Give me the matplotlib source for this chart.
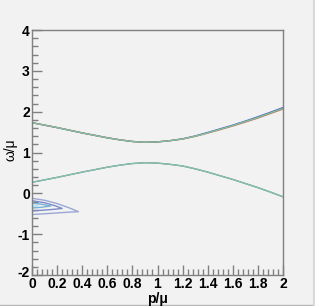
import numpy as np
import matplotlib
matplotlib.use("Agg")
import matplotlib.pyplot as plt
import matplotlib.transforms as mtransforms
from matplotlib.ticker import MultipleLocator
from matplotlib.lines import Line2D

# momentum grid (p/mu)
p = [0.0, 0.1, 0.2, 0.3, 0.4, 0.5, 0.6, 0.7, 0.8, 0.9, 1.0,
     1.1, 1.2, 1.3, 1.4, 1.5, 1.6, 1.7, 1.8, 1.9, 2.0]

# upper branch (three overlaid curves)
upper_green = [1.73, 1.67, 1.61, 1.545, 1.48, 1.42, 1.36, 1.31, 1.27, 1.25, 1.26,
               1.29, 1.33, 1.40, 1.48, 1.57, 1.66, 1.76, 1.86, 1.97, 2.08]
upper_red = [1.73, 1.67, 1.61, 1.545, 1.48, 1.42, 1.36, 1.31, 1.27, 1.25, 1.26,
             1.29, 1.33, 1.395, 1.475, 1.56, 1.65, 1.745, 1.845, 1.955, 2.065]
upper_blue = [1.73, 1.67, 1.61, 1.545, 1.48, 1.42, 1.36, 1.31, 1.27, 1.25, 1.26,
              1.29, 1.335, 1.405, 1.49, 1.58, 1.67, 1.77, 1.875, 1.985, 2.10]

# lower branch
lower_green = [0.27, 0.33, 0.39, 0.455, 0.52, 0.58, 0.64, 0.69, 0.73, 0.75, 0.74,
               0.71, 0.67, 0.60, 0.52, 0.43, 0.34, 0.24, 0.14, 0.03, -0.085]
lower_blue = [0.27, 0.33, 0.39, 0.455, 0.52, 0.58, 0.64, 0.69, 0.73, 0.75, 0.74,
              0.71, 0.67, 0.60, 0.52, 0.43, 0.34, 0.24, 0.14, 0.03, -0.085]
lower_red = [0.27, 0.33, 0.39, 0.455, 0.52, 0.58, 0.64, 0.69, 0.73, 0.75, 0.74,
             0.71, 0.67, 0.60, 0.52, 0.43, 0.34, 0.24, 0.14, 0.03, -0.085]

# contour rings near p=0, omega<0 (p, omega)
ring1_p = [0.0, 0.1, 0.2, 0.3, 0.37, 0.3, 0.2, 0.1, 0.0]
ring1_w = [-0.12, -0.17, -0.25, -0.36, -0.45, -0.46, -0.48, -0.50, -0.52]
ring2_p = [0.0, 0.1, 0.18, 0.24, 0.18, 0.1, 0.0]
ring2_w = [-0.18, -0.23, -0.30, -0.37, -0.39, -0.41, -0.43]
ring3_p = [0.0, 0.08, 0.15, 0.08, 0.0]
ring3_w = [-0.24, -0.27, -0.31, -0.34, -0.36]
core_p = [0.0, 0.04, 0.06, 0.04, 0.0]
core_w = [-0.27, -0.29, -0.31, -0.33, -0.34]

bg = '#f2f2f2'
fig = plt.figure(figsize=(3.15, 3.06), dpi=100, facecolor=bg)
ax = fig.add_axes([32/315, 1-275/306, 251/315, 245/306], facecolor=bg)

ax.plot(ring1_p, ring1_w, color='#9ba6d6', lw=1.0)
ax.plot(ring2_p, ring2_w, color='#7d8cc8', lw=1.0)
ax.plot(ring3_p, ring3_w, color='#7ab0d8', lw=1.0)
ax.fill(core_p, core_w, color='#b4e4f0', lw=0)

ax.plot(p, upper_blue, color='#4a5fc0', lw=1.0)
ax.plot(p, upper_red, color='#c07060', lw=1.0)
ax.plot(p, upper_green, color='#7cc4a0', lw=0.9)
ax.plot(p, lower_blue, color='#6f9fd0', lw=1.0)
ax.plot(p, lower_red, color='#c08070', lw=0.6)
ax.plot(p, lower_green, color='#80c4a8', lw=0.9)

ax.set_xlim(0, 2)
ax.set_ylim(-2, 4)

ax.xaxis.set_minor_locator(MultipleLocator(0.04))
ax.yaxis.set_minor_locator(MultipleLocator(0.2))
ax.set_xticks([0, 0.2, 0.4, 0.6, 0.8, 1.0, 1.2, 1.4, 1.6, 1.8, 2.0])
ax.set_xticklabels(['0', '0.2', '0.4', '0.6', '0.8', '1', '1.2', '1.4', '1.6', '1.8', '2'])
ax.set_yticks([-2, -1, 0, 1, 2, 3, 4])
ax.set_yticklabels(['-2', '-1', '0', '1', '2', '3', '4'])

ax.tick_params(which='both', direction='in', top=False, right=False,
               color='#808080', width=1.0)
ax.tick_params(which='major', length=7, labelsize=10, pad=1.5)
ax.tick_params(which='minor', length=4)
for lab in ax.get_xticklabels() + ax.get_yticklabels():
    lab.set_fontweight('bold')
    lab.set_family('Liberation Sans')

# lift the "-2" a little so it clears the "0" below it
ylab0 = ax.get_yticklabels()[0]
ylab0.set_transform(ylab0.get_transform() +
                    mtransforms.ScaledTranslation(0, 2.5/72, fig.dpi_scale_trans))

for s in ax.spines.values():
    s.set_color('#808080')
    s.set_linewidth(1.0)

fig.text(157/315, 1-299/306, 'p/\u03bc', ha='center', va='center',
         fontsize=10, family='Liberation Sans', fontweight='bold')
fig.text(10/315, 1-150/306, '\u03c9/\u03bc', ha='center', va='center',
         fontsize=10, family='Liberation Sans', rotation=90)

# canvas bevel
fig.add_artist(Line2D([0, 1], [1.0/306, 1.0/306], transform=fig.transFigure,
                      color='#b8b8b8', lw=1.0))
fig.add_artist(Line2D([1-1.5/315, 1-1.5/315], [0, 1], transform=fig.transFigure,
                      color='#d8d8d8', lw=1.5))

fig.savefig('out.png', dpi=100, facecolor=bg)
